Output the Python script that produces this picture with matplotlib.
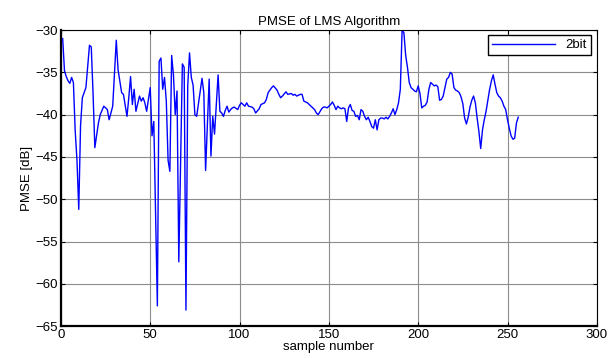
import matplotlib
matplotlib.use("Agg")
import matplotlib.pyplot as plt

plt.rcParams['font.family'] = ['Liberation Sans', 'DejaVu Sans']

# sample index and PMSE value (dB)
samples = [1, 2, 3, 4, 5, 6, 7, 8, 9, 10, 11, 12, 14, 16, 17, 18, 19, 21, 22, 24,
           26, 27, 29, 31, 32, 34, 35, 37, 38, 39, 40, 41, 42, 44, 45, 46, 47, 48, 50, 51,
           52, 54, 55, 56, 57, 58, 59, 60, 61, 62, 63, 64, 65, 66, 68, 69, 70, 71, 72, 73,
           74, 75, 76, 78, 79, 80, 81, 83, 84, 85, 86, 88, 89, 90, 91, 92, 93, 94, 95, 96,
           97, 99, 100, 101, 103, 104, 105, 107, 108, 109, 111, 112, 114, 115, 116, 118, 119, 121, 122, 123,
           124, 126, 127, 129, 130, 131, 132, 134, 135, 136, 138, 139, 140, 142, 143, 144, 146, 147, 148, 149,
           151, 152, 153, 154, 155, 156, 157, 158, 159, 160, 161, 162, 163, 164, 165, 166, 167, 168, 169, 170,
           171, 172, 173, 174, 175, 176, 177, 178, 179, 180, 181, 182, 183, 184, 185, 186, 187, 188, 189, 190,
           191, 192, 193, 194, 195, 196, 197, 198, 199, 200, 201, 202, 203, 204, 205, 206, 207, 208, 209, 210,
           211, 212, 213, 214, 215, 216, 217, 218, 219, 220, 221, 222, 223, 224, 225, 226, 227, 228, 229, 230,
           231, 232, 233, 234, 235, 236, 237, 238, 239, 240, 241, 242, 243, 244, 245, 246, 247, 248, 249, 250,
           251, 252, 253, 254, 255, 256]
pmse = [-31.0, -34.8, -35.5, -36.0, -36.3, -35.6, -36.2, -41.9, -45.4, -51.2, -41.3, -38.0, -36.8, -31.8, -32.0, -37.5, -43.9, -41.0, -40.0, -39.0,
        -39.4, -40.6, -39.0, -31.2, -34.7, -37.4, -37.6, -40.2, -38.0, -35.5, -38.8, -37.0, -39.6, -37.8, -38.4, -38.0, -38.6, -39.6, -36.8, -42.5,
        -40.8, -62.6, -33.7, -33.3, -37.0, -35.6, -38.4, -45.4, -46.7, -33.0, -35.3, -40.0, -37.2, -57.4, -34.0, -34.4, -63.1, -36.6, -32.7, -35.6,
        -36.5, -40.0, -40.2, -37.2, -35.7, -37.4, -46.6, -35.8, -44.9, -40.2, -42.3, -35.3, -39.6, -39.8, -40.2, -39.5, -39.0, -39.7, -39.4, -39.2,
        -39.1, -39.4, -38.9, -38.6, -39.0, -38.6, -39.0, -39.1, -39.3, -39.8, -39.3, -38.8, -38.6, -38.2, -37.4, -36.8, -36.6, -37.1, -37.6, -38.0,
        -37.8, -37.3, -37.6, -37.5, -37.7, -37.6, -37.8, -37.6, -37.6, -38.4, -38.6, -38.8, -39.0, -39.4, -39.8, -40.0, -39.3, -39.1, -39.1, -39.2,
        -38.8, -38.5, -38.9, -39.4, -39.0, -39.2, -39.3, -39.2, -39.3, -40.8, -39.2, -38.8, -39.5, -39.6, -40.2, -40.1, -40.6, -39.4, -39.6, -40.2,
        -40.6, -40.3, -40.8, -41.4, -41.6, -40.6, -41.8, -40.6, -40.4, -40.4, -40.5, -40.3, -40.5, -40.2, -39.8, -39.3, -40.0, -39.4, -38.6, -37.0,
        -30.0, -30.3, -33.0, -34.4, -36.2, -36.8, -37.0, -37.2, -37.3, -36.6, -37.5, -39.2, -39.0, -38.9, -38.5, -37.0, -36.2, -36.4, -36.6, -36.5,
        -36.7, -38.3, -38.2, -37.8, -36.8, -35.8, -35.6, -35.0, -35.2, -36.8, -37.1, -37.2, -37.4, -37.9, -38.7, -40.4, -41.1, -40.3, -39.1, -38.3,
        -37.8, -38.6, -40.4, -42.0, -44.0, -41.8, -40.6, -39.6, -38.3, -37.0, -36.0, -35.3, -36.4, -37.4, -37.8, -38.0, -38.4, -39.0, -39.4, -40.6,
        -41.6, -42.5, -42.9, -42.8, -41.0, -40.3]

x_ticks = [0, 50, 100, 150, 200, 250, 300]
y_ticks = [-65, -60, -55, -50, -45, -40, -35, -30]

fig = plt.figure(figsize=(6.09, 3.58), dpi=100)
ax = fig.add_axes([0.100, 0.089, 0.880, 0.827])

ax.plot(samples, pmse, color="#0000ff", linewidth=1.0, label="2bit")

ax.set_xlim(0, 300)
ax.set_ylim(-65, -30)
ax.set_xticks(x_ticks)
ax.set_yticks(y_ticks)
ax.grid(True, color="#8c8c8c", linestyle="-", linewidth=0.8)
ax.tick_params(direction="in", length=3, labelsize=9.5, top=True, right=True, pad=2)
for side in ["left", "bottom"]:
    ax.spines[side].set_linewidth(1.6)
for side in ["top", "right"]:
    ax.spines[side].set_linewidth(0.8)

ax.set_title("PMSE of LMS Algorithm", fontsize=9.5, pad=4)
ax.set_xlabel("sample number", fontsize=9.5, labelpad=0)
ax.set_ylabel("PMSE [dB]", fontsize=9.5, labelpad=2)

leg = ax.legend(loc="upper right", fontsize=9.5, fancybox=False, framealpha=1,
                edgecolor="black", handlelength=4.8, borderpad=0.3, borderaxespad=0,
                bbox_to_anchor=(0.989, 0.983))
leg.get_frame().set_linewidth(1.0)

fig.savefig("out.png", dpi=100)
